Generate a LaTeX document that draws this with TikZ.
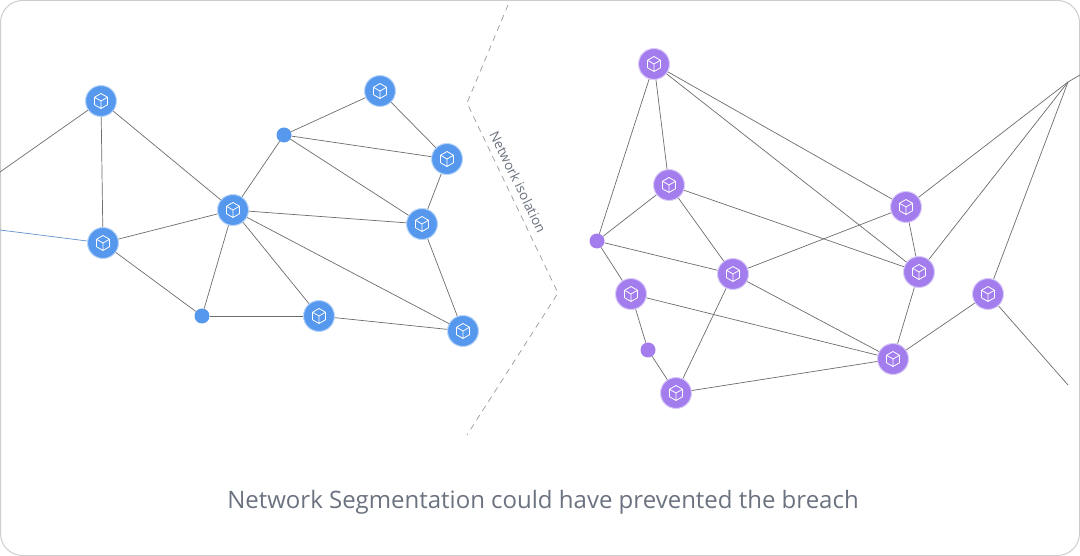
\documentclass[tikz,border=0pt]{standalone}
\usepackage{fontspec}
\setmainfont{Open Sans}
\begin{document}
\begin{tikzpicture}[x=1pt,y=-1pt,
  edge/.style={draw=gray!85!black,line width=0.7pt},
  bn/.style={circle,fill=blueN,draw=blueN!40,line width=1pt,minimum size=31pt,inner sep=0pt},
  pn/.style={circle,fill=purpN,draw=purpN!40,line width=1pt,minimum size=31pt,inner sep=0pt},
  bs/.style={circle,fill=blueN,minimum size=15pt,inner sep=0pt},
  ps/.style={circle,fill=purpN,minimum size=15pt,inner sep=0pt},
  cube/.pic={\draw[white,line width=0.8pt,line join=round] (90:7.5)--(30:7.5)--(-30:7.5)--(-90:7.5)--(-150:7.5)--(150:7.5)--cycle (0,0)--(-150:7.5) (0,0)--(-30:7.5) (0,0)--(90:7.5);}
]
\definecolor{blueN}{HTML}{5598EE}
\definecolor{purpN}{HTML}{A37DED}
\definecolor{txt}{HTML}{6B7280}
\useasboundingbox (0,0) rectangle (1080,556);
\draw[gray!40,line width=1pt,rounded corners=22pt] (0.5,0.5) rectangle (1079.5,555.5);
% left
\coordinate (L1) at (0,172); \coordinate (L2) at (0,230);
\node[bn] (A) at (101,101) {}; \node[bn] (B) at (103,243) {};
\node[bn] (C) at (233,210) {}; \node[bs] (D) at (284,135) {};
\node[bn] (E) at (380,91) {}; \node[bn] (F) at (447,159) {};
\node[bn] (G) at (422,224) {}; \node[bs] (H) at (202,316) {};
\node[bn] (I) at (319,316) {}; \node[bn] (J) at (463,331) {};
% right
\node[pn] (P1) at (654,64) {}; \node[pn] (P2) at (669,185) {};
\node[ps] (P3) at (597,241) {}; \node[pn] (P4) at (631,294) {};
\node[ps] (P5) at (648,350) {}; \node[pn] (P6) at (676,393) {};
\node[pn] (P7) at (733,274) {}; \node[pn] (P8) at (906,207) {};
\node[pn] (P9) at (919,272) {}; \node[pn] (P10) at (893,359) {};
\node[pn] (P11) at (988,294) {};
\coordinate (HUB) at (1068,82); \coordinate (R1) at (1080,75); \coordinate (R2) at (1068,385);
\foreach \a/\b in {L1/A,A/B,A/C,B/C,B/H,C/D,D/E,D/F,E/F,D/G,F/G,C/G,C/H,C/I,C/J,G/J,H/I,I/J,
  P1/P8,P1/P9,P1/P3,P1/P2,P2/P3,P2/P7,P2/P9,P3/P7,P3/P4,P4/P5,P5/P6,P4/P10,P6/P7,P6/P10,P7/P8,P7/P10,P8/P9,P8/HUB,P9/HUB,P11/HUB,P9/P10,P10/P11,P11/R2,HUB/R1}
  \draw[edge] (\a)--(\b);
\draw[blueN!70!gray,line width=0.7pt] (L2)--(B);
\foreach \n in {A,B,C,E,F,G,I,J,P1,P2,P4,P6,P7,P8,P9,P10,P11} \pic at (\n) {cube};
% divider
\coordinate (d1) at (508,5); \coordinate (d2) at (467,103); \coordinate (d3) at (558,293); \coordinate (d4) at (467,435);
\draw[gray!80,line width=0.7pt,dash pattern=on 6pt off 5pt] (d1)--(d2)--(d3)--(d4);
\node[text=txt,font=\fontsize{13.5}{15}\selectfont,rotate=-64] (lab) at (518,182) {Network isolation};
\node[text=txt,font=\fontsize{24}{28}\selectfont] (title) at (543,502) {Network Segmentation could have prevented the breach};
\end{tikzpicture}
\end{document}
